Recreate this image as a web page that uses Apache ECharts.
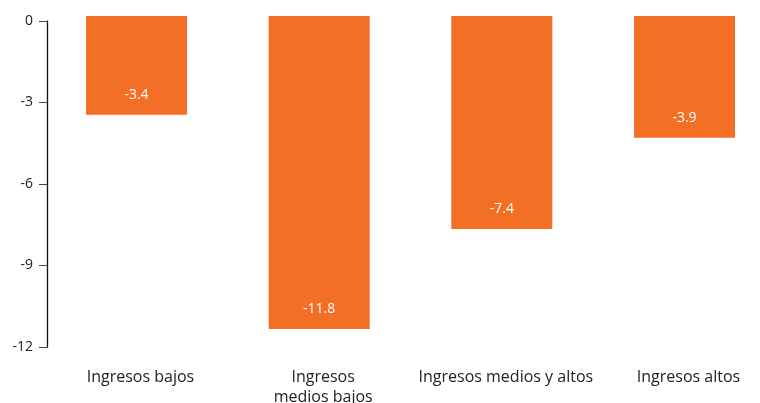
<!DOCTYPE html>
<html>
<head>
<meta charset="utf-8">
<script src="https://cdn.jsdelivr.net/npm/echarts@6/dist/echarts.min.js"></script>
<style>
html,body{margin:0;padding:0;background:#fff;}
#chart{width:760px;height:403px;}
</style>
</head>
<body>
<div id="chart"></div>
<script>
const categories = ['Ingresos bajos', 'Ingresos\nmedios bajos', 'Ingresos medios y altos', 'Ingresos altos'];
// bar lengths as drawn in the reference
const barValues = [-3.45, -11.34, -7.66, -4.30];
// value labels as printed in the reference
const valueLabels = ['-3.4', '-11.8', '-7.4', '-3.9'];
// the bars start slightly above the zero line in the reference
const barOverhang = [0.184, 0.184, 0.184, 0.184];
const yTicks = { min: -12, max: 0, interval: 3 };

const chart = echarts.init(document.getElementById('chart'), null, { renderer: 'canvas' });
const font = '"Open Sans", sans-serif';
const ORANGE = '#f36f26';
chart.setOption({
  animation: false,
  backgroundColor: '#ffffff',
  grid: [
    { left: 47, top: 21, height: 326, width: 1, outerBoundsMode: 'none', containLabel: false },
    { left: 136.5, top: 16, height: 331, right: 0, outerBoundsMode: 'none', containLabel: false }
  ],
  xAxis: [
    { gridIndex: 0, type: 'value', show: false },
    {
      gridIndex: 1, type: 'value', min: 0, max: 3.4133, interval: 1,
      axisLine: { show: false }, axisTick: { show: false }, splitLine: { show: false },
      axisLabel: {
        margin: 20, fontSize: 16, lineHeight: 20, color: '#222',
        fontFamily: font, padding: [0, 0, 0, 8], showMaxLabel: false, hideOverlap: false,
        formatter: v => (Number.isInteger(v) && categories[v] !== undefined) ? categories[v] : ''
      }
    }
  ],
  yAxis: [
    {
      gridIndex: 0, type: 'value', min: yTicks.min, max: yTicks.max, interval: yTicks.interval,
      axisLine: { show: true, lineStyle: { color: '#111', width: 1.3 } },
      axisTick: { show: true, length: 8, lineStyle: { color: '#444', width: 1 } },
      axisLabel: { margin: 14, fontSize: 14, color: '#222', fontFamily: font },
      splitLine: { show: false }
    },
    {
      gridIndex: 1, type: 'value', min: -12, max: 0.184, show: false,
      splitLine: { show: false }
    }
  ],
  series: [
    {
      type: 'bar', xAxisIndex: 1, yAxisIndex: 1, stack: 'b',
      data: barValues.map((v, i) => [i, v]), barWidth: 101,
      itemStyle: { color: ORANGE },
      label: {
        show: true, position: 'insideBottom', distance: 13,
        color: '#ffffff', fontSize: 14, fontFamily: font,
        formatter: p => valueLabels[p.dataIndex]
      }
    },
    {
      type: 'bar', xAxisIndex: 1, yAxisIndex: 1, stack: 'b',
      data: barOverhang.map((v, i) => [i, v]), barWidth: 101,
      itemStyle: { color: ORANGE }
    }
  ]
});
</script>
</body>
</html>
